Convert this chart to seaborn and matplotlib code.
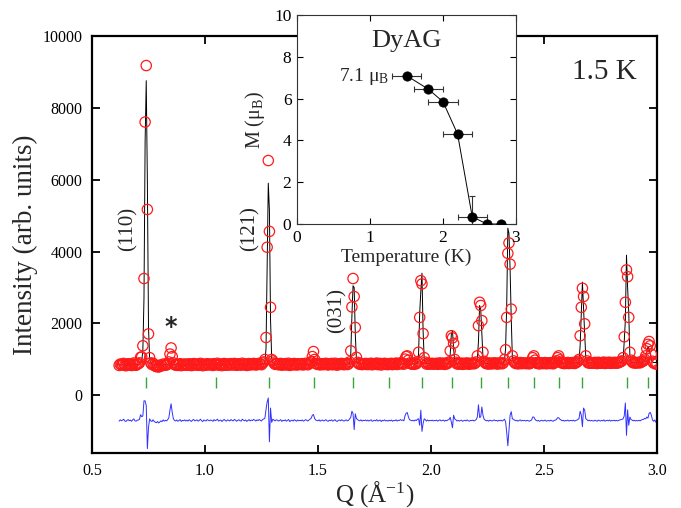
import numpy as np
import pandas as pd
import matplotlib
matplotlib.use("Agg")
import matplotlib.pyplot as plt
import seaborn as sns

# ---------------- data ----------------
q_start = 0.62      # first Q point (1/A)
q_step = 0.005      # Q step of the measured pattern

obs_counts = [
    835, 872, 848, 861, 890, 842, 826, 858, 880, 847, 866, 833, 874, 902, 851, 838, 869, 880, 905, 1060,      # 0.620-0.715
    1070, 1380, 3250, 7600, 9170, 5170, 1710, 1050, 905, 860, 895, 842, 818, 800, 832, 790, 815, 848, 826, 871,  # 0.720-0.815
    838, 862, 845, 880, 930, 1150, 1320, 1080, 905, 858, 842, 870, 835, 856, 881, 829, 862, 847, 873, 840,    # 0.820-0.915
    866, 841, 879, 852, 830, 868, 885, 846, 859, 874, 838, 861, 892, 849, 827, 870, 856, 843, 881, 862,       # 0.920-1.015
    848, 873, 860, 835, 882, 851, 866, 894, 843, 858, 871, 829, 863, 887, 852, 840, 876, 859, 845, 884,       # 1.020-1.115
    861, 847, 889, 870, 838, 864, 880, 853, 842, 895, 867, 851, 876, 834, 860, 885, 848, 872, 857, 890,       # 1.120-1.215
    872, 846, 880, 861, 893, 870, 855, 905, 930, 1000, 1610, 4120, 6530, 4560, 2450, 1000, 960, 902, 865, 888,  # 1.220-1.315
    879, 852, 866, 890, 841, 873, 858, 884, 847, 869, 895, 836, 862, 877, 851, 888, 870, 845, 881, 859,       # 1.320-1.415
    871, 858, 884, 849, 866, 892, 875, 853, 880, 905, 940, 1080, 1220, 1000, 890, 872, 861, 887, 850, 876,    # 1.420-1.515
    882, 856, 874, 893, 861, 848, 879, 866, 889, 852, 871, 895, 858, 843, 876, 884, 862, 890, 869, 855,       # 1.520-1.615
    874, 889, 860, 878, 930, 1240, 2460, 3250, 2750, 1890, 1060, 920, 885, 866, 892, 857, 879, 870, 888, 861,  # 1.620-1.715
    886, 861, 878, 895, 853, 870, 884, 866, 899, 858, 875, 890, 847, 881, 869, 893, 862, 877, 858, 884,       # 1.720-1.815
    868, 892, 857, 880, 873, 899, 862, 885, 878, 905, 880, 893, 870, 1010, 1080, 1100, 980, 900, 884, 871,    # 1.820-1.915
    889, 866, 895, 881, 940, 1200, 2170, 3190, 3100, 1720, 1050, 925, 872, 898, 869, 887, 876, 893, 870, 884,  # 1.920-2.015
    878, 893, 866, 889, 902, 871, 884, 897, 863, 890, 878, 905, 930, 1240, 1660, 1600, 1450, 1000, 920, 876,  # 2.020-2.115
    891, 870, 886, 899, 865, 882, 894, 876, 903, 880, 868, 892, 885, 900, 879, 897, 930, 1100, 1940, 2590,    # 2.120-2.215
    2500, 2080, 1200, 950, 905, 883, 897, 872, 901, 889, 878, 893, 906, 884, 895, 872, 899, 887, 904, 881,    # 2.220-2.315
    905, 1000, 1270, 2170, 3950, 4240, 3650, 2400, 1100, 960, 912, 889, 906, 878, 899, 915, 884, 902, 891, 897,  # 2.320-2.415
    884, 906, 892, 879, 900, 915, 1050, 1100, 980, 910, 889, 903, 877, 896, 908, 885, 899, 912, 881, 894,     # 2.420-2.515
    903, 887, 912, 895, 880, 906, 918, 960, 1050, 1100, 990, 930, 897, 911, 885, 904, 893, 916, 888, 902,     # 2.520-2.615
    910, 893, 916, 889, 905, 925, 950, 1000, 1660, 2450, 2980, 2750, 1990, 1100, 960, 905, 918, 894, 910, 899,  # 2.620-2.715
    895, 918, 903, 887, 921, 909, 894, 913, 900, 926, 889, 907, 916, 898, 923, 892, 911, 904, 919, 896,       # 2.720-2.815
    917, 899, 913, 928, 940, 960, 1050, 1630, 2590, 3490, 3300, 2170, 1200, 980, 935, 906, 922, 899, 915, 908,  # 2.820-2.915
    921, 905, 930, 945, 960, 1010, 1100, 1300, 1420, 1500, 1380, 1150, 950, 900, 935, 870, 885,              # 2.920-3.000
]

calc_counts = [
    850, 850, 850, 850, 850, 850, 850, 850, 851, 851, 851, 852, 852, 853, 854, 855, 858, 862, 870, 895,
    960, 1250, 2700, 7050, 8750, 5950, 1900, 1000, 910, 885, 872, 865, 861, 858, 856, 855, 854, 853, 853, 852,
    852, 852, 852, 852, 852, 852, 852, 852, 852, 852, 852, 852, 852, 852, 852, 852, 852, 852, 852, 852,
    853, 853, 853, 853, 853, 853, 853, 853, 853, 853, 853, 853, 853, 853, 853, 853, 853, 853, 853, 853,
    854, 854, 854, 854, 854, 854, 854, 854, 854, 854, 854, 854, 854, 854, 854, 854, 854, 854, 854, 854,
    856, 856, 856, 856, 856, 856, 856, 856, 856, 856, 856, 856, 856, 856, 856, 856, 856, 856, 856, 856,
    858, 858, 859, 860, 861, 863, 866, 872, 885, 930, 1300, 3600, 5900, 5150, 2100, 1050, 920, 885, 872, 866,
    863, 863, 863, 863, 863, 863, 863, 863, 863, 863, 863, 863, 863, 863, 863, 863, 863, 863, 863, 863,
    864, 864, 864, 864, 864, 864, 864, 864, 865, 866, 872, 930, 1050, 940, 875, 867, 866, 866, 866, 866,
    867, 867, 867, 867, 867, 867, 867, 867, 867, 867, 867, 867, 867, 867, 867, 867, 867, 867, 867, 867,
    868, 868, 869, 870, 880, 1150, 2200, 3050, 3000, 1700, 1000, 895, 878, 872, 870, 870, 870, 870, 870, 870,
    872, 872, 872, 872, 872, 872, 872, 872, 872, 872, 872, 872, 872, 872, 872, 872, 872, 872, 872, 872,
    875, 875, 875, 875, 875, 875, 875, 875, 875, 875, 875, 875, 875, 875, 875, 875, 875, 875, 875, 875,
    877, 877, 878, 880, 900, 1150, 2300, 2900, 3400, 1800, 1000, 900, 885, 880, 879, 879, 879, 879, 879, 879,
    880, 880, 880, 880, 880, 880, 880, 880, 880, 880, 881, 883, 900, 1150, 1700, 1800, 1300, 950, 895, 886,
    884, 884, 884, 884, 884, 884, 884, 884, 884, 884, 884, 884, 885, 886, 888, 892, 900, 1000, 1500, 2500,
    2400, 1700, 1050, 910, 893, 889, 888, 888, 888, 888, 888, 888, 888, 888, 888, 888, 889, 890, 891, 892,
    895, 960, 1300, 2500, 4650, 4500, 3500, 2150, 1050, 920, 900, 895, 894, 894, 894, 894, 894, 894, 894, 894,
    896, 896, 896, 896, 897, 900, 950, 1000, 940, 905, 898, 897, 897, 897, 897, 897, 897, 897, 897, 897,
    899, 899, 899, 899, 899, 900, 905, 930, 970, 1020, 950, 910, 901, 900, 900, 900, 900, 900, 900, 900,
    902, 902, 902, 903, 904, 910, 920, 940, 1400, 2300, 3150, 2400, 1700, 1050, 930, 910, 905, 904, 904, 904,
    906, 906, 906, 906, 906, 906, 906, 906, 906, 906, 906, 906, 906, 906, 906, 906, 906, 906, 906, 906,
    908, 908, 909, 910, 915, 925, 1000, 1500, 2100, 3900, 3000, 2300, 1100, 950, 920, 912, 910, 910, 911, 912,
    913, 914, 915, 918, 925, 950, 1050, 1200, 1350, 1300, 1150, 1000, 930, 918, 915, 915, 915,
]

bragg_q = [0.740, 1.047, 1.283, 1.481, 1.656, 1.814, 1.959, 2.094, 2.221,
           2.342, 2.456, 2.565, 2.670, 2.868, 2.962]
bragg_tick_lo, bragg_tick_hi = 220, 500
diff_offset = -700

# inset: ordered moment vs temperature
temp_K = [1.5, 1.8, 2.0, 2.2, 2.4, 2.6, 2.8]
moment_muB = [7.1, 6.45, 5.85, 4.3, 0.35, 0.0, 0.0]
temp_err = [0.2, 0.2, 0.2, 0.2, 0.2, 0.0, 0.0]
moment_err = [0.0, 0.0, 0.0, 0.0, 1.0, 0.0, 0.0]

peak_labels = ["(110)", "(121)", "(031)"]
peak_label_x = [0.659, 1.199, 1.584]
peak_label_y = [4640, 4640, 2350]

# ---------------- build frame ----------------
q = np.round(q_start + q_step * np.arange(len(obs_counts)), 4)
obs = np.array(obs_counts, dtype=float)
calc = np.array(calc_counts, dtype=float)
df = pd.DataFrame({"Q": q, "obs": obs, "calc": calc,
                   "diff": obs - calc + diff_offset})
df_in = pd.DataFrame({"T": temp_K, "M": moment_muB})

# ---------------- style ----------------
sns.set_style("ticks")
plt.rcParams['font.family'] = ['Liberation Serif', 'DejaVu Serif']
plt.rcParams['mathtext.fontset'] = 'custom'
plt.rcParams['mathtext.rm'] = 'Liberation Serif'
plt.rcParams['mathtext.it'] = 'Liberation Serif:italic'
plt.rcParams['mathtext.bf'] = 'Liberation Serif:bold'

fig = plt.figure(figsize=(6.81, 5.08), dpi=100)
ax = fig.add_axes([92 / 681, 1 - 453 / 508, 565 / 681, 417.3 / 508])

sns.lineplot(data=df, x="Q", y="calc", ax=ax, color="black", lw=0.7,
             errorbar=None, sort=False, zorder=2)
sns.scatterplot(data=df, x="Q", y="obs", ax=ax, marker="o", s=55,
                facecolor="none", edgecolor="#ff1a1a", linewidth=0.9,
                zorder=3, legend=False)
sns.lineplot(data=df, x="Q", y="diff", ax=ax, color="#3030ff", lw=0.7,
             errorbar=None, sort=False, zorder=2)
ax.vlines(bragg_q, bragg_tick_lo, bragg_tick_hi, color="#3aa63a", lw=1.0)

ax.set_xlim(0.5, 3.0)
ax.set_ylim(-1600, 10000)
ax.set_xticks([0.5, 1.0, 1.5, 2.0, 2.5, 3.0])
ax.set_xticklabels(["0.5", "1.0", "1.5", "2.0", "2.5", "3.0"])
ax.set_yticks([0, 2000, 4000, 6000, 8000, 10000])
ax.tick_params(direction="in", top=True, right=True, length=6, width=1.3,
               labelsize=11.5, pad=7, colors="black")
for sp in ax.spines.values():
    sp.set_linewidth(1.6)
    sp.set_color("black")
ax.set_xlabel("Q (Å$^{-1}$)", fontsize=18, labelpad=0)
ax.set_ylabel("Intensity (arb. units)", fontsize=19.5, labelpad=3)

for lab, lx, ly in zip(peak_labels, peak_label_x, peak_label_y):
    ax.text(lx, ly, lab, rotation=90, fontsize=15, ha="center", va="center")
ax.text(0.85, 1900, "*", fontsize=17, fontweight="bold", ha="center",
        va="center", family="DejaVu Sans")
ax.text(2.765, 9000, "1.5 K", fontsize=21, ha="center", va="center")

# ---------------- inset ----------------
axi = fig.add_axes([297 / 681, 1 - 224 / 508, 219 / 681, 209 / 508])
axi.set_facecolor("white")
sns.lineplot(data=df_in, x="T", y="M", ax=axi, color="black", lw=0.7,
             errorbar=None, sort=False, zorder=2)
axi.errorbar(temp_K, moment_muB, xerr=temp_err, yerr=moment_err, fmt="none",
             ecolor="#333333", elinewidth=0.8, capsize=2, capthick=0.8,
             zorder=3)
sns.scatterplot(data=df_in, x="T", y="M", ax=axi, color="black", s=45,
                edgecolor="black", linewidth=0.5, zorder=4, legend=False)
axi.set_xlim(0, 3)
axi.set_ylim(0, 10)
axi.set_xticks([0, 1, 2, 3])
axi.set_yticks([0, 2, 4, 6, 8, 10])
axi.tick_params(direction="in", top=True, right=True, length=4, width=0.8,
                labelsize=12.5, pad=4, colors="black")
for sp in axi.spines.values():
    sp.set_linewidth(0.8)
    sp.set_color("#333333")
axi.set_xlabel("Temperature (K)", fontsize=14, labelpad=2)
axi.set_ylabel("M (μ$_\\mathrm{B}$)", fontsize=14.5, labelpad=5)
axi.text(1.5, 8.75, "DyAG", fontsize=19, ha="center", va="center")
axi.text(1.27, 7.05, "7.1 μ$_\\mathrm{B}$", fontsize=14, ha="right",
         va="center")

fig.savefig("out.png", dpi=100)
